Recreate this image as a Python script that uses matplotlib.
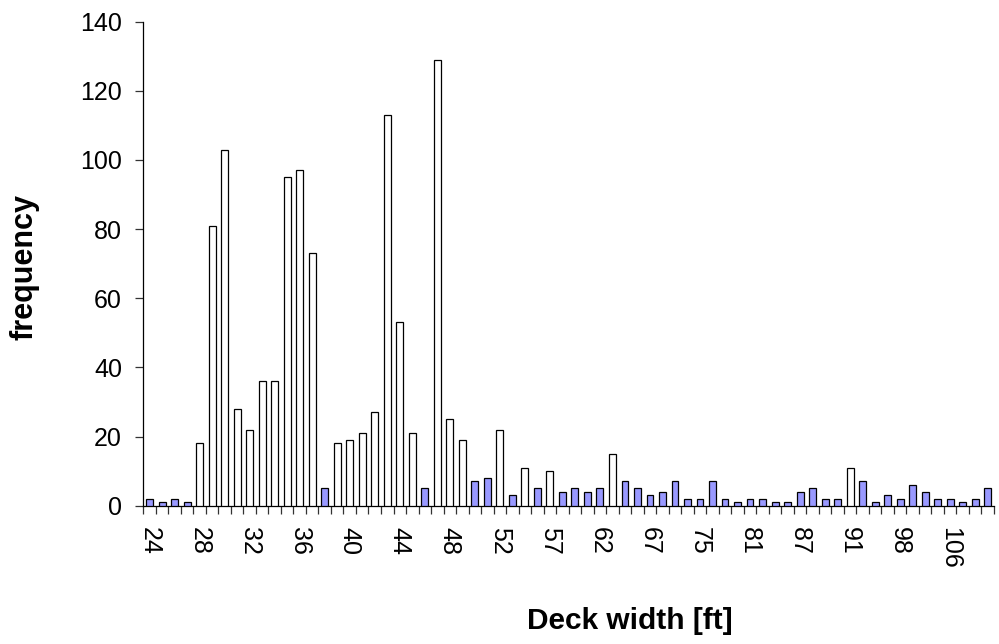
import matplotlib
matplotlib.use("Agg")
import matplotlib.pyplot as plt

# Deck width categories [ft] and how many bridges fall in each
widths = [24, 25, 26, 27, 28, 29, 30, 31, 32, 33, 34, 35, 36, 37, 38, 39,
          40, 41, 42, 43, 44, 45, 46, 47, 48, 49, 50, 51, 52, 53, 54, 55,
          57, 58, 59, 60, 62, 63, 64, 65, 67, 68, 70, 72, 75, 76, 78, 80,
          81, 82, 84, 85, 87, 88, 89, 90, 91, 92, 94, 96, 98, 100, 102, 104,
          106, 108, 110, 113]
frequency = [2, 1, 2, 1, 18, 81, 103, 28, 22, 36, 36, 95, 97, 73, 5, 18,
             19, 21, 27, 113, 53, 21, 5, 129, 25, 19, 7, 8, 22, 3, 11, 5,
             10, 4, 5, 4, 5, 15, 7, 5, 3, 4, 7, 2, 2, 7, 2, 1,
             2, 2, 1, 1, 4, 5, 2, 2, 11, 7, 1, 3, 2, 6, 4, 2,
             2, 1, 2, 5]
# only every fourth category carries a label on the axis
shown_labels = {24, 28, 32, 36, 40, 44, 48, 52, 57, 62, 67, 75, 81, 87, 91, 98, 106}
common_min = 10  # widths with at least this many bridges are drawn hollow

plt.rcParams['font.family'] = ['Liberation Sans', 'DejaVu Sans']

fig = plt.figure(figsize=(9.99, 6.44), dpi=100)
W, H = 999, 644
ax = fig.add_axes([143.3 / W, 1 - 505.7 / H, (994 - 143.3) / W, (505.7 - 21.7) / H])

pos = list(range(len(widths)))
colors = ['white' if f >= common_min else '#9999FF' for f in frequency]
ax.bar(pos, frequency, width=0.55, color=colors, edgecolor='black', linewidth=0.9, zorder=3)

ax.set_xlim(-0.5, len(widths) - 0.5)
ax.set_ylim(0, 140)
ax.set_yticks(range(0, 141, 20))

# ticks sit between categories, labels under selected bars
ax.set_xticks([p - 0.5 for p in pos] + [len(widths) - 0.5])
ax.set_xticklabels([])
ax.set_xticks(pos, minor=True)
ax.set_xticklabels([str(w) if w in shown_labels else '' for w in widths],
                   minor=True, rotation=-90, fontsize=18)
ax.tick_params(axis='x', which='major', direction='out', length=5.5, width=0.9,
               color='#333333')
ax.tick_params(axis='x', which='minor', length=0, pad=15.1)
ax.tick_params(axis='y', direction='out', length=5.8, width=0.9, color='#333333',
               pad=9.6, labelsize=18)

for side in ('top', 'right'):
    ax.spines[side].set_visible(False)
for side in ('left', 'bottom'):
    ax.spines[side].set_linewidth(0.9)
    ax.spines[side].set_color('black')

fig.text(25 / W, 1 - 267 / H, 'frequency', rotation=90, ha='center', va='center',
         fontsize=22, fontweight='bold')
fig.text(630 / W, 1 - 621 / H, 'Deck width [ft]', ha='center', va='center',
         fontsize=21.5, fontweight='bold')

fig.savefig('out.png', dpi=100)
